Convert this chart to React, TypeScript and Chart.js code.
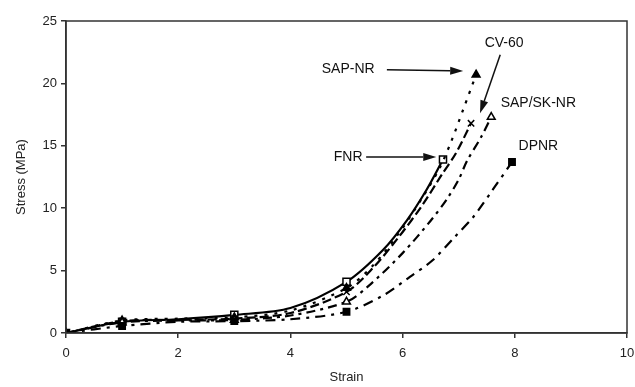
import React, { useEffect, useRef } from "react";
import { Chart, registerables } from "chart.js";

Chart.register(...registerables);

// ---- data ----
const fnrStrain = [0, 1, 2, 3, 4, 5, 5.65, 6.08, 6.43, 6.72];
const fnrStress = [0, 0.9, 1.1, 1.45, 2.0, 4.1, 6.65, 9.05, 11.5, 13.9];

const sapNrStrain = [0, 1, 2, 3, 4, 5, 5.47, 5.95, 6.36, 6.67, 6.88, 7.08, 7.31];
const sapNrStress = [0, 1.0, 1.15, 1.25, 1.8, 3.6, 5.4, 8.1, 10.9, 13.3, 15.5, 17.9, 20.7];

const cv60Strain = [0, 1, 2, 3, 4, 5, 5.47, 5.95, 6.36, 6.7, 6.95, 7.22];
const cv60Stress = [0, 0.95, 1.05, 1.15, 1.6, 3.3, 5.2, 7.8, 10.3, 12.7, 14.4, 16.8];

const sapSkStrain = [0, 1, 2, 3, 4, 5, 5.4, 6.0, 6.5, 6.8, 7.0, 7.15, 7.4, 7.58];
const sapSkStress = [0, 0.85, 1.0, 1.05, 1.4, 2.5, 3.8, 6.4, 9.0, 10.8, 12.3, 13.8, 15.7, 17.3];

const dpnrStrain = [0, 1, 2, 3, 4, 5, 5.65, 6.13, 6.54, 6.93, 7.26, 7.61, 7.95];
const dpnrStress = [0, 0.56, 0.9, 0.95, 1.1, 1.7, 3.0, 4.5, 5.85, 7.7, 9.3, 11.5, 13.7];

const markedStrains = [0, 1, 3, 5];

const xTicks = [0, 2, 4, 6, 8, 10];
const yTicks = [0, 5, 10, 15, 20, 25];

// annotation labels (text, data position of label centre)
const labelTexts = ["SAP-NR", "CV-60", "SAP/SK-NR", "DPNR", "FNR"];
const labelX = [5.03, 7.81, 8.42, 8.42, 5.03];
const labelY = [21.15, 23.2, 18.4, 15.0, 14.1];

// arrows (from -> to, data coords)
const arrowFromX = [5.72, 7.74, 5.35];
const arrowFromY = [21.1, 22.3, 14.1];
const arrowToX = [7.08, 7.38, 6.6];
const arrowToY = [21.0, 17.6, 14.1];

const FONT = "'Liberation Sans', Arial, sans-serif";

function pts(xs: number[], ys: number[]) {
  return xs.map((x, i) => ({ x, y: ys[i] }));
}

function markerRadius(size: number) {
  return (ctx: any) => {
    const n = ctx.dataset.data.length;
    const raw = ctx.raw;
    if (!raw) return 0;
    return ctx.dataIndex === n - 1 || markedStrains.includes(raw.x) ? size : 0;
  };
}

const framePlugin = {
  id: "frameAndNotes",
  afterDatasetsDraw(chart: any) {
    const { ctx, chartArea, scales } = chart;
    const { left, top, right, bottom } = chartArea;
    const xs = scales.x;
    const ys = scales.y;
    ctx.save();
    ctx.strokeStyle = "#333";
    ctx.lineWidth = 1.5;
    ctx.strokeRect(left, top, right - left, bottom - top);

    ctx.fillStyle = "#111";
    ctx.font = `14px ${FONT}`;
    ctx.textAlign = "center";
    ctx.textBaseline = "middle";
    labelTexts.forEach((t, i) => {
      ctx.fillText(t, xs.getPixelForValue(labelX[i]), ys.getPixelForValue(labelY[i]));
    });

    ctx.strokeStyle = "#111";
    ctx.lineWidth = 1.5;
    arrowFromX.forEach((fx, i) => {
      const x1 = xs.getPixelForValue(fx);
      const y1 = ys.getPixelForValue(arrowFromY[i]);
      const x2 = xs.getPixelForValue(arrowToX[i]);
      const y2 = ys.getPixelForValue(arrowToY[i]);
      const ang = Math.atan2(y2 - y1, x2 - x1);
      const hl = 13;
      const hw = 4;
      const bx = x2 - hl * Math.cos(ang);
      const by = y2 - hl * Math.sin(ang);
      ctx.beginPath();
      ctx.moveTo(x1, y1);
      ctx.lineTo(bx, by);
      ctx.stroke();
      ctx.beginPath();
      ctx.moveTo(x2, y2);
      ctx.lineTo(bx + hw * Math.sin(ang), by - hw * Math.cos(ang));
      ctx.lineTo(bx - hw * Math.sin(ang), by + hw * Math.cos(ang));
      ctx.closePath();
      ctx.fill();
    });
    ctx.restore();
  },
};

export default function App() {
  const ref = useRef<HTMLCanvasElement | null>(null);

  useEffect(() => {
    if (!ref.current) return;
    const common = {
      showLine: true,
      borderColor: "#000",
      borderWidth: 2.2,
      tension: 0.3,
      pointBorderColor: "#000",
      pointBorderWidth: 1.5,
      pointHoverRadius: 0,
    };
    const chart = new Chart(ref.current, {
      type: "scatter",
      data: {
        datasets: [
          {
            ...common,
            label: "DPNR",
            data: pts(dpnrStrain, dpnrStress),
            borderDash: [10, 6, 3, 6],
            pointStyle: "rect",
            pointBackgroundColor: "#000",
            pointRadius: markerRadius(4.5),
          },
          {
            ...common,
            label: "SAP/SK-NR",
            data: pts(sapSkStrain, sapSkStress),
            borderDash: [9, 5, 3, 5],
            pointStyle: "triangle",
            pointBackgroundColor: "#fff",
            pointRadius: markerRadius(4.5),
          },
          {
            ...common,
            label: "CV-60",
            data: pts(cv60Strain, cv60Stress),
            borderDash: [9, 4],
            pointStyle: "crossRot",
            pointBackgroundColor: "#000",
            pointRadius: markerRadius(4.5),
          },
          {
            ...common,
            label: "SAP-NR",
            data: pts(sapNrStrain, sapNrStress),
            borderDash: [3, 7],
            pointStyle: "triangle",
            pointBackgroundColor: "#000",
            pointRadius: markerRadius(4.5),
          },
          {
            ...common,
            label: "FNR",
            data: pts(fnrStrain, fnrStress),
            borderWidth: 2.2,
            pointStyle: "rect",
            pointBackgroundColor: "#fff",
            pointRadius: markerRadius(5),
          },
        ],
      },
      options: {
        animation: false,
        responsive: false,
        maintainAspectRatio: false,
        layout: { padding: { top: 21, right: 0, left: 0, bottom: 0 } },
        plugins: {
          legend: { display: false },
          tooltip: { enabled: false },
        },
        scales: {
          x: {
            type: "linear",
            min: 0,
            max: 10,
            afterFit: (s: any) => {
              s.height = 54;
              s.paddingRight = 8;
            },
            afterBuildTicks: (s: any) => {
              s.ticks = xTicks.map((v) => ({ value: v }));
            },
            grid: {
              drawOnChartArea: false,
              drawTicks: true,
              tickLength: 5,
              color: "#333",
              lineWidth: 1.5,
            },
            border: { display: true, color: "#333", width: 1.5 },
            ticks: {
              color: "#222",
              font: { family: FONT, size: 13 },
              padding: 8,
              maxRotation: 0,
            },
            title: {
              display: true,
              text: "Strain",
              color: "#222",
              font: { family: FONT, size: 13 },
              padding: { top: 2, bottom: 2 },
            },
          },
          y: {
            type: "linear",
            min: 0,
            max: 25,
            afterFit: (s: any) => {
              s.width = 66;
            },
            afterBuildTicks: (s: any) => {
              s.ticks = yTicks.map((v) => ({ value: v }));
            },
            grid: {
              drawOnChartArea: false,
              drawTicks: true,
              tickLength: 5,
              color: "#333",
              lineWidth: 1.5,
            },
            border: { display: true, color: "#333", width: 1.5 },
            ticks: {
              color: "#222",
              font: { family: FONT, size: 13 },
              padding: 4,
            },
            title: {
              display: true,
              text: "Stress (MPa)",
              color: "#222",
              font: { family: FONT, size: 13 },
              padding: { top: 14, bottom: 4 },
            },
          },
        },
      },
      plugins: [framePlugin],
    } as any);
    return () => chart.destroy();
  }, []);

  return (
    <div style={{ position: "fixed", left: 0, top: 0, width: 635, height: 387, background: "#fff" }}>
      <canvas ref={ref} width={635} height={387} style={{ width: 635, height: 387 }} />
    </div>
  );
}
